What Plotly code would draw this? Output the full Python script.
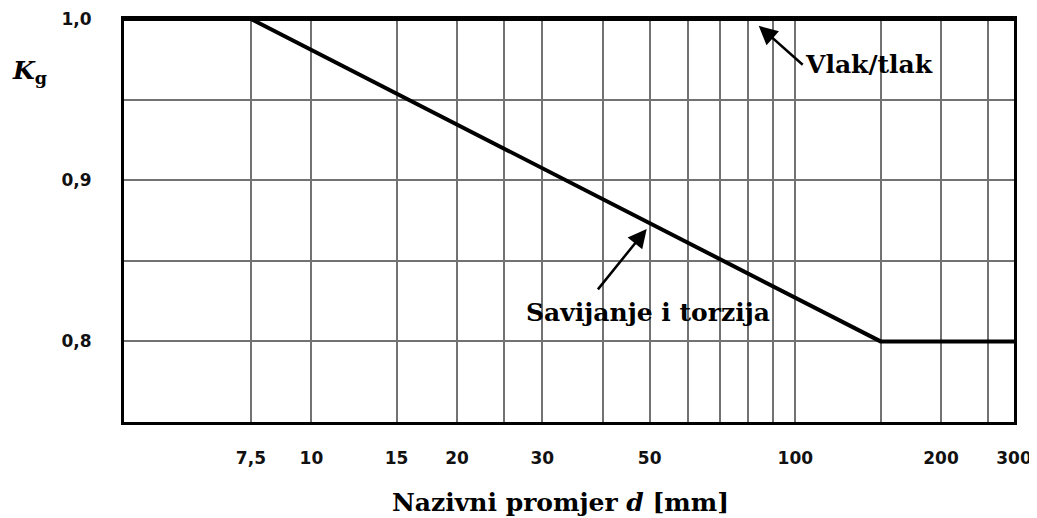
import numpy as np
import plotly.graph_objects as go

# ---- data ----
vlak_x = [4.1, 300]
vlak_y = [1.0, 1.0]
sav_x = [7.5, 150, 300]
sav_y = [1.0, 0.8, 0.8]

x_min, x_max = 4.1, 283  # visible axis extent
grid_x = [7.5, 10, 15, 20, 25, 30, 40, 50, 60, 70, 80, 90, 100, 150, 200, 250, x_max]
grid_x_text = ["7,5", "10", "15", "20", "", "30", "", "50", "", "", "", "", "100", "", "200", "", "300"]
grid_y = [0.8, 0.85, 0.9, 0.95, 1.0]
grid_y_text = ["0,8", "", "0,9", "", "1,0"]

fig = go.Figure()
fig.add_trace(go.Scatter(x=vlak_x, y=vlak_y, mode="lines",
                         line=dict(color="black", width=4), showlegend=False))
fig.add_trace(go.Scatter(x=sav_x, y=sav_y, mode="lines",
                         line=dict(color="black", width=4), showlegend=False))

tickfont = dict(family="DejaVu Sans", size=17, color="#111", weight="bold")
fig.update_xaxes(type="log", range=[np.log10(x_min), np.log10(x_max)],
                 tickmode="array", tickvals=grid_x, ticktext=grid_x_text,
                 showgrid=True, gridcolor="#727272", gridwidth=1.5,
                 showline=True, linecolor="black", linewidth=3, mirror=True,
                 ticks="", ticklabelstandoff=19, tickfont=tickfont, zeroline=False,
                 automargin=False)
fig.update_yaxes(range=[0.75, 1.0],
                 tickmode="array", tickvals=grid_y, ticktext=grid_y_text,
                 showgrid=True, gridcolor="#727272", gridwidth=1.5,
                 showline=True, linecolor="black", linewidth=3, mirror=True,
                 ticks="", ticklabelstandoff=26, tickfont=tickfont, zeroline=False,
                 automargin=False)

serif = "DejaVu Serif"
ann = []
# arrows
ann.append(dict(x=np.log10(84), y=0.9958, xref="x", yref="y", text="Vlak/tlak",
                showarrow=True, ax=44, ay=39, arrowhead=2, arrowsize=1.5, arrowwidth=2.5,
                arrowcolor="black", xanchor="left", yanchor="middle",
                font=dict(family=serif, size=25, color="black", weight="bold")))
ann.append(dict(x=np.log10(49.3), y=0.8698, xref="x", yref="y", text="",
                showarrow=True, ax=-50, ay=62, arrowhead=2, arrowsize=1.5, arrowwidth=2.5,
                arrowcolor="black"))
ann.append(dict(x=np.log10(49.5), y=0.818, xref="x", yref="y",
                text="Savijanje i torzija", showarrow=False,
                xanchor="center", yanchor="middle",
                font=dict(family=serif, size=25, color="black", weight="bold")))
# axis titles
ann.append(dict(x=0.491, y=-0.20, xref="paper", yref="paper",
                text="Nazivni promjer <i>d</i> [mm]", showarrow=False,
                xanchor="center", yanchor="middle",
                font=dict(family=serif, size=25, color="black", weight="bold")))
ann.append(dict(x=-0.106, y=0.868, xref="paper", yref="paper",
                text="<i>K</i><sub>g</sub>", showarrow=False,
                xanchor="center", yanchor="middle",
                font=dict(family=serif, size=25, color="black", weight="bold")))

# page body has an 8px margin: shrink the figure so the plot lands where the reference has it
fig.update_layout(width=1029, height=510, margin=dict(l=116, r=23, t=11, b=96),
                  plot_bgcolor="white", paper_bgcolor="white", annotations=ann)
fig.write_html("out.html")
